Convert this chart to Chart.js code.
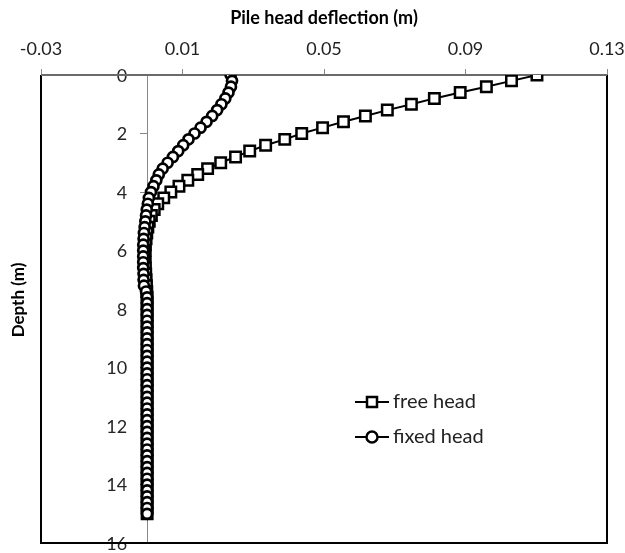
<!DOCTYPE html>
<html>
<head>
<meta charset="utf-8">
<script src="https://cdn.jsdelivr.net/npm/chart.js@4.4.1/dist/chart.umd.min.js"></script>
<style>
  html, body { margin: 0; padding: 0; background: #fff; }
</style>
</head>
<body>
<canvas id="chart" width="625" height="553"></canvas>
<script>
const depth = [0, 0.2, 0.4, 0.6, 0.8, 1, 1.2, 1.4, 1.6, 1.8,
  2, 2.2, 2.4, 2.6, 2.8, 3, 3.2, 3.4, 3.6, 3.8,
  4, 4.2, 4.4, 4.6, 4.8, 5, 5.2, 5.4, 5.6, 5.8,
  6, 6.2, 6.4, 6.6, 6.8, 7, 7.2, 7.4, 7.6, 7.8,
  8, 8.2, 8.4, 8.6, 8.8, 9, 9.2, 9.4, 9.6, 9.8,
  10, 10.2, 10.4, 10.6, 10.8, 11, 11.2, 11.4, 11.6, 11.8,
  12, 12.2, 12.4, 12.6, 12.8, 13, 13.2, 13.4, 13.6, 13.8,
  14, 14.2, 14.4, 14.6, 14.8, 15];

const freeHead = [0.1102, 0.1030, 0.0959, 0.0885, 0.0812, 0.0747, 0.0679, 0.0617, 0.0555, 0.0496,
  0.0437, 0.0389, 0.0335, 0.0290, 0.0250, 0.0208, 0.0171, 0.0143, 0.0115, 0.0090,
  0.0067, 0.0047, 0.0030, 0.0020, 0.0012, 0.0006, 0.0002, -0.0001, -0.0003, -0.0005,
  -0.0006, -0.0006, -0.0006, -0.0005, -0.0004, -0.0003, -0.0002, -0.0001, 0, 0,
  0, 0, 0, 0, 0, 0, 0, 0, 0, 0,
  0, 0, 0, 0, 0, 0, 0, 0, 0, 0,
  0, 0, 0, 0, 0, 0, 0, 0, 0, 0,
  0, 0, 0, 0, 0, 0];

const fixedHead = [0.0236, 0.0240, 0.0237, 0.0230, 0.0221, 0.0210, 0.0198, 0.0184, 0.0168, 0.0151,
  0.0134, 0.0117, 0.0102, 0.0088, 0.0073, 0.0058, 0.0044, 0.0033, 0.0026, 0.0018,
  0.0011, 0.0005, 0.0002, -0.0001, -0.0003, -0.0005, -0.0007, -0.0009, -0.0010, -0.0011,
  -0.0011, -0.0011, -0.0011, -0.0011, -0.0010, -0.0010, -0.0009, -0.0003, 0, 0,
  0, 0, 0, 0, 0, 0, 0, 0, 0, 0,
  0, 0, 0, 0, 0, 0, 0, 0, 0, 0,
  0, 0, 0, 0, 0, 0, 0, 0, 0, 0,
  0, 0, 0, 0, 0, 0];

const xTicks = [-0.03, 0.01, 0.05, 0.09, 0.13];
const yTicks = [0, 2, 4, 6, 8, 10, 12, 14, 16];
const seriesNames = ["free head", "fixed head"];

const FONT = "Lato, 'Open Sans', sans-serif";

function toPoints(values) {
  return values.map((v, i) => ({ x: v, y: depth[i] }));
}

// y labels sit left of the x=0 axis line; frame goes over them, markers over the frame
const framePlugin = {
  id: "frame",
  beforeDatasetsDraw(chart) {
    const { ctx, chartArea: a } = chart;
    const ys = chart.scales.y;
    const axisX = chart.scales.x.getPixelForValue(0);
    ctx.save();
    ctx.fillStyle = "#262626";
    ctx.font = "18px " + FONT;
    ctx.textAlign = "right";
    ctx.textBaseline = "middle";
    ys.ticks.forEach(t => {
      ctx.fillText(String(t.value), axisX - 20, ys.getPixelForValue(t.value) + 1);
    });

    ctx.strokeStyle = "#000";
    ctx.lineWidth = 2;
    ctx.beginPath();
    ctx.moveTo(a.left, a.top);
    ctx.lineTo(a.left, a.bottom);
    ctx.lineTo(a.right, a.bottom);
    ctx.lineTo(a.right, a.top);
    ctx.stroke();
    ctx.strokeStyle = "#6b6b6b";
    ctx.beginPath();
    ctx.moveTo(a.left, a.top);
    ctx.lineTo(a.right, a.top);
    ctx.stroke();
    ctx.restore();
  },
  afterDraw(chart) {
    const { ctx } = chart;
    ctx.save();
    ctx.translate(19, 300);
    ctx.rotate(-Math.PI / 2);
    ctx.font = "bold 17px " + FONT;
    ctx.fillStyle = "#000";
    ctx.textAlign = "center";
    ctx.textBaseline = "middle";
    ctx.fillText("Depth (m)", 0, 0);
    ctx.restore();

    // legend
    const items = [
      { y: 402, style: "rect" },
      { y: 437, style: "circle" }
    ];
    ctx.save();
    items.forEach((it, i) => {
      ctx.strokeStyle = "#000";
      ctx.lineWidth = 2;
      ctx.beginPath();
      ctx.moveTo(355, it.y);
      ctx.lineTo(389, it.y);
      ctx.stroke();
      ctx.fillStyle = "#fff";
      ctx.lineWidth = 2.5;
      ctx.beginPath();
      if (it.style === "rect") ctx.rect(367, it.y - 5, 10, 10);
      else ctx.arc(372, it.y, 5.5, 0, Math.PI * 2);
      ctx.fill();
      ctx.stroke();
      ctx.fillStyle = "#222";
      ctx.font = "20px " + FONT;
      ctx.textAlign = "left";
      ctx.textBaseline = "middle";
      ctx.fillText(seriesNames[i], 393, it.y);
    });
    ctx.restore();
  }
};

new Chart(document.getElementById("chart").getContext("2d"), {
  type: "line",
  data: {
    datasets: [
      {
        label: seriesNames[0],
        data: toPoints(freeHead),
        order: 1,
        borderColor: "#000",
        borderWidth: 2,
        pointStyle: "rect",
        pointRadius: 7.4,
        pointBorderWidth: 2.5,
        pointBackgroundColor: "#fff",
        pointBorderColor: "#000",
        tension: 0
      },
      {
        label: seriesNames[1],
        data: toPoints(fixedHead),
        order: 0,
        borderColor: "#000",
        borderWidth: 2,
        pointStyle: "circle",
        pointRadius: 5,
        pointBorderWidth: 2.7,
        pointBackgroundColor: "#fff",
        pointBorderColor: "#000",
        tension: 0
      }
    ]
  },
  options: {
    responsive: false,
    animation: false,
    devicePixelRatio: 1,
    layout: { padding: { left: 41, right: 18, top: 0, bottom: 7 } },
    plugins: {
      legend: { display: false },
      tooltip: { enabled: false }
    },
    scales: {
      x: {
        type: "linear",
        position: "top",
        min: -0.03,
        max: 0.13,
        afterBuildTicks: s => { s.ticks = xTicks.map(v => ({ value: v })); },
        afterFit: s => { s.height = 75; s.paddingLeft = 0; s.paddingRight = 0; },
        grid: { drawOnChartArea: false, drawTicks: true, tickLength: 6, color: "#888" },
        border: { display: true, color: "#6b6b6b", width: 1 },
        ticks: {
          padding: 9,
          color: "#222",
          font: { family: FONT, size: 18 },
          callback: v => v.toFixed(2)
        },
        title: {
          display: true,
          text: "Pile head deflection (m)",
          color: "#000",
          font: { family: FONT, size: 18, weight: "bold" },
          padding: { top: 7, bottom: 4 }
        }
      },
      y: {
        type: "linear",
        position: { x: 0 },
        reverse: true,
        min: 0,
        max: 16,
        afterBuildTicks: s => { s.ticks = yTicks.map(v => ({ value: v })); },
        afterFit: s => { s.paddingTop = 0; s.paddingBottom = 0; s.paddingLeft = 0; s.paddingRight = 0; },
        grid: { drawOnChartArea: false, drawTicks: true, tickLength: 7, color: "#888" },
        border: { display: true, color: "#888", width: 1 },
        ticks: { display: false }
      }
    }
  },
  plugins: [framePlugin]
});
</script>
</body>
</html>
